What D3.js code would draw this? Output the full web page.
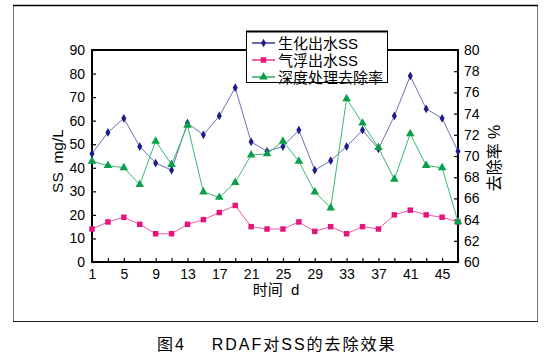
<!DOCTYPE html>
<html><head><meta charset="utf-8">
<script src="https://cdn.jsdelivr.net/npm/d3@7/dist/d3.min.js"></script>
<style>body{margin:0;background:#fff}svg{display:block}</style>
</head><body>
<svg id="c" width="547" height="360"></svg>
<script>
const days = [1,3,5,7,9,11,13,15,17,19,21,23,25,27,29,31,33,35,37,39,41,43,45,47];
const bioSS = [46,55,61,49,42,39,59,54,62,74,51,47,49,56,39,43,49,56,48,62,79,65,61,47];
const flotSS = [14,17,19,16,12,12,16,18,21,24,15,14,14,17,13,15,12,15,14,20,22,20,19,17];
const removal = [69.5,69.1,68.9,67.3,71.4,69.2,72.9,66.6,66.1,67.5,70.1,70.2,71.4,69.5,66.6,65.1,75.4,73.1,70.8,67.8,72.1,69.1,68.9,63.8];
const xTickLabels = [1,5,9,13,17,21,25,29,33,37,41,45];
const leftTicks = [0,10,20,30,40,50,60,70,80,90];
const rightTicks = [60,62,64,66,68,70,72,74,76,78,80];
const seriesNames = ["生化出水SS","气浮出水SS","深度处理去除率"];

const svg = d3.select("#c");
const font = "'Liberation Sans','Noto Sans CJK SC',Arial,sans-serif";
const L=92, R=458, T=50, B=262;
const x = d3.scaleLinear().domain([1,47]).range([L,R]);
const yL = d3.scaleLinear().domain([0,90]).range([B,T]);
const yR = d3.scaleLinear().domain([60,80]).range([B,T]);

// outer frame
svg.append("rect").attr("x",13.5).attr("y",5.5).attr("width",524).attr("height",316)
  .attr("fill","none").attr("stroke","#777").attr("stroke-width",1);
svg.append("line").attr("x1",13).attr("x2",538).attr("y1",5.5).attr("y2",5.5).attr("stroke","#000").attr("stroke-width",1.5);
svg.append("line").attr("x1",13).attr("x2",538).attr("y1",321.5).attr("y2",321.5).attr("stroke","#222").attr("stroke-width",1);

// axes
const ax = svg.append("g").attr("font-family",font).attr("font-size",13);
const gx = ax.append("g").attr("transform",`translate(0,${B})`)
  .call(d3.axisBottom(x).tickValues(days).tickSize(-4).tickFormat(d => xTickLabels.includes(d)?d:""));
const gl = ax.append("g").attr("transform",`translate(${L},0)`)
  .call(d3.axisLeft(yL).tickValues(leftTicks).tickSize(-4));
const gr = ax.append("g").attr("transform",`translate(${R},0)`)
  .call(d3.axisRight(yR).tickValues(rightTicks).tickSize(-4));
[gx,gl,gr].forEach(g=>{
  g.select(".domain").remove();
  g.selectAll(".tick line").attr("stroke","#000").attr("stroke-width",1.2);
  g.selectAll(".tick text").attr("fill","#000").attr("font-family",font).attr("font-size",14);
});
gx.selectAll(".tick text").attr("dy","0.95em").attr("y",4);
gl.selectAll(".tick text").attr("x",-7);
gr.selectAll(".tick text").attr("x",6);
// plot box
svg.append("rect").attr("x",L).attr("y",T).attr("width",R-L).attr("height",B-T)
  .attr("fill","none").attr("stroke","#000").attr("stroke-width",2);

// axis titles
svg.append("text").attr("transform",`translate(63,161) rotate(-90)`).attr("text-anchor","middle")
  .attr("font-family",font).attr("font-size",15.5).attr("xml:space","preserve").text("SS  mg/L");
svg.append("text").attr("transform",`translate(500,158) rotate(-90)`).attr("text-anchor","middle")
  .attr("font-family",font).attr("font-size",16).attr("xml:space","preserve").text("去除率 %");
svg.append("text").attr("x",276).attr("y",295).attr("text-anchor","middle")
  .attr("font-family",font).attr("font-size",15).attr("xml:space","preserve").text("时间  d");

// series
const colors = ["#1c1c8c","#e6147f","#0aa04a"];
const lineCol = ["#7070bb","#ee5aa4","#3cbb6e"];
const sBio = days.map((d,i)=>[x(d),yL(bioSS[i])]);
const sFlot = days.map((d,i)=>[x(d),yL(flotSS[i])]);
const sRem = days.map((d,i)=>[x(d),yR(removal[i])]);
const line = d3.line();
const symbols = [d3.symbolDiamond, d3.symbolSquare, d3.symbolTriangle];
const sizes = [22, 30, 32];
[sBio,sFlot,sRem].forEach((pts,k)=>{
  svg.append("path").attr("d",line(pts)).attr("fill","none").attr("stroke",lineCol[k]).attr("stroke-width",1);
  svg.append("g").selectAll("path").data(pts).join("path")
    .attr("transform",p=>`translate(${p[0]},${p[1]})`)
    .attr("d",d3.symbol().type(symbols[k]).size(sizes[k])).attr("fill",colors[k]);
});

// legend
const lg = svg.append("g");
lg.append("rect").attr("x",246.5).attr("y",31.5).attr("width",141).attr("height",51)
  .attr("fill","#fff").attr("stroke","#000").attr("stroke-width",1);
lg.append("line").attr("x1",246).attr("x2",388).attr("y1",31.5).attr("y2",31.5).attr("stroke","#000").attr("stroke-width",1.8);
seriesNames.forEach((n,k)=>{
  const yy = 43 + k*17;
  lg.append("line").attr("x1",252).attr("x2",275).attr("y1",yy).attr("y2",yy).attr("stroke",colors[k]).attr("stroke-width",1.3);
  lg.append("path").attr("transform",`translate(263.5,${yy})`).attr("d",d3.symbol().type(symbols[k]).size(sizes[k])).attr("fill",colors[k]);
  lg.append("text").attr("x",278).attr("y",yy+5.5).attr("font-family",font).attr("font-size",15).text(n);
});

// caption
svg.append("text").attr("x",157).attr("y",350).attr("font-family",font).attr("font-size",16)
  .attr("letter-spacing",2).attr("xml:space","preserve").text("图4    RDAF对SS的去除效果");
</script>
</body></html>
